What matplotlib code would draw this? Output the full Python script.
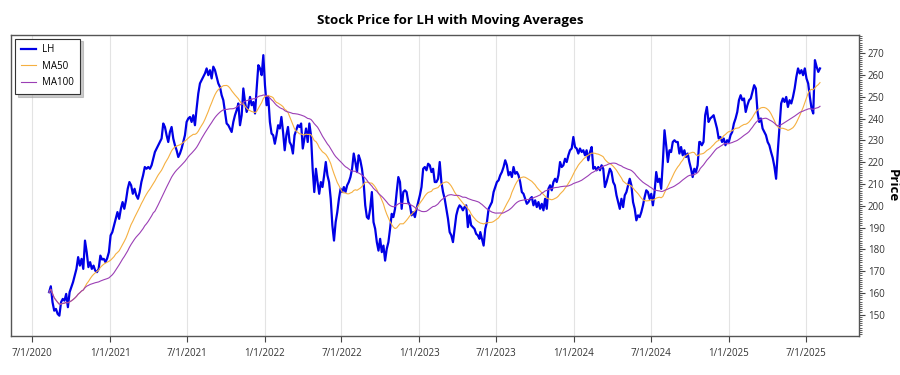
import matplotlib

matplotlib.use("Agg")
import matplotlib.dates as mdates
import matplotlib.pyplot as plt
import pandas as pd
from matplotlib.ticker import FuncFormatter, MultipleLocator

# Price readings, one list per stretch of the chart (about every 4 days)
seg_dates = [
    ("2020-08-10", "2021-04-01"),
    ("2021-04-05", "2021-12-17"),
    ("2021-12-21", "2022-09-07"),
    ("2022-09-11", "2023-05-23"),
    ("2023-05-25", "2024-02-04"),
    ("2024-02-08", "2024-10-23"),
    ("2024-10-25", "2025-08-04"),
]

price_2020 = [
    160.3, 163, 155.7, 151.8, 152.6, 150.3, 149.5, 155.7, 157.2, 156.4, 159.5, 153.4, 160.3, 162.6, 164.9,
    167.9, 171, 176.4, 172.5, 175.6, 171, 184, 178.7, 171.8, 174.1, 171, 172.5, 170.2, 169.5, 171, 177.1,
    175.3, 175.6, 174.1, 175.9, 178.7, 186.4, 187.9, 191, 194, 197.1, 194, 198.6, 201.7, 198.6, 202.5,
    207.8, 210.9, 209.4, 205.5, 207.8, 204.8, 203.2, 206.3, 210.9, 214, 217.8, 217, 217.8,
]
price_2021 = [
    217, 218.6, 221.6, 224.7, 226.3, 227.8, 229.3, 230.9, 237.8, 236.2, 232.4, 229.3, 233.9, 236.2, 230.9,
    227.8, 225.5, 222.4, 224, 226.3, 229.3, 232.4, 238.5, 240.1, 240.8, 238.5, 241.6, 237, 244.7, 251.6,
    256.2, 257.7, 259.2, 260.8, 263.1, 260, 262.3, 258.5, 263.9, 262.3, 259.2, 256.2, 254.6, 250.8, 248.5,
    243.1, 237.8, 237, 235.5, 233.9, 238.5, 241.6, 243.9, 247, 237, 241.6, 253.9, 247.7, 243.1, 245.4, 250,
    246.2, 247.7, 242.4, 253.9, 264.6,
]
price_2022 = [
    263.1, 260, 269.2, 255.4, 246.2, 250, 238.5, 233.2, 232.4, 228.5, 232.4, 237, 235.5, 240.8, 233.9,
    225.5, 232.4, 236.2, 229.3, 227.8, 224, 232.4, 234.7, 237, 236.2, 237.8, 226.3, 230.9, 235.5, 229.3,
    237.8, 232.4, 217, 206.3, 217, 210.9, 205.5, 210.9, 208.6, 214, 220.1, 214, 210.9, 203.2, 191, 184,
    192.5, 197.1, 203.2, 207.8, 206.3, 208.6, 206.3, 209.4, 210.9, 213.2, 217, 224, 220.1, 215.5, 223.2,
    220.9, 217, 210.9, 200.2, 194.8, 194, 198.6,
]
price_2023 = [
    206.3, 192.5, 189.4, 183.3, 179.4, 184.8, 178.7, 181.7, 174.8, 180.2, 183.3, 189.4, 196.3, 194.8, 198.6,
    206.3, 213.2, 210.9, 198.6, 206.3, 207.1, 206.3, 201.7, 200.2, 195.6, 197.1, 194.8, 198.6, 201.7, 204.8,
    208.6, 217, 217.8, 216.3, 219.3, 218.6, 215.5, 217, 210.9, 210.9, 212.4, 220.1, 210.9, 206.3, 203.2,
    198.6, 194, 187.9, 186.4, 183.3, 189.4, 195.6, 198.6, 200.2, 199.4, 197.9, 199.4, 200.2, 190.2, 195.6,
    191, 190.2, 189.4, 187.1, 186.4, 184.8,
]
price_2023b = [
    187.9, 184.8, 181.7, 189.4, 192.5, 198.6, 200.2, 201.7, 206.3, 208.6, 210.9, 211.7, 214, 215.5, 217.8,
    220.9, 218.6, 214, 215.5, 213.2, 217.8, 214.7, 215.5, 214, 210.9, 206.3, 205.5, 203.2, 200.9, 201.7,
    203.2, 204, 200.2, 202.5, 199.4, 201.7, 198.6, 200.9, 197.9, 203.2, 198.6, 207.8, 209.4, 207.1, 210.9,
    212.4, 210.9, 214, 220.1, 217.8, 218.6, 221.6, 220.1, 223.2, 225.5, 226.3, 231.6, 227, 226.3, 224,
    226.3, 224.7, 225.5, 223.2, 225.5, 220.9,
]
price_2024 = [
    224.7, 227, 217, 217.8, 216.3, 217.8, 216.3, 218.6, 217, 208.6, 210.9, 214, 217, 215.5, 210.9, 209.4,
    204.8, 201.7, 198.6, 203.2, 199.4, 204.8, 206.3, 209.4, 212.4, 209.4, 201.7, 198.6, 193.3, 195.6,
    194.8, 197.1, 200.2, 204, 207.1, 206.3, 203.2, 205.5, 200.2, 206.3, 215.5, 210.9, 212.4, 207.8, 220.1,
    234.7, 227.8, 220.1, 225.5, 224.7, 229.3, 230.1, 229.3, 229.3, 224, 227, 223.2, 225.5, 222.4, 224,
    220.1, 217, 213.2, 217, 215.5, 218.6, 229.3,
]
price_2025 = [
    229.3, 227.8, 229.3, 241.6, 245.4, 238.5, 240.1, 240.8, 241.6, 238.5, 235.5, 230.9, 231.6, 229.3, 230.9,
    227.8, 230.1, 229.3, 232.4, 233.9, 237.8, 240.1, 243.1, 248.5, 250.8, 248.5, 249.3, 243.1, 246.2, 248.5,
    249.3, 252.3, 255.4, 253.9, 243.1, 238.5, 240.1, 235.5, 233.9, 232.4, 229.3, 227.8, 224.7, 222, 218,
    212.4, 225, 236, 247, 249.3, 247.7, 250, 245.4, 248.5, 247, 250, 253.9, 259.2, 263.1, 260.8, 262.3,
    260, 263.1, 258.5, 256.2, 250, 244.7, 242.4, 266.9, 263.9, 261.5, 263.1,
]

segments = [price_2020, price_2021, price_2022, price_2023, price_2023b, price_2024, price_2025]

# Build one dated series
parts = []
for (start, end), vals in zip(seg_dates, segments):
    idx = pd.date_range(start, end, periods=len(vals))
    parts.append(pd.Series(vals, index=idx))
price = pd.concat(parts)

# Moving averages (50 and 100 trading days in calendar time)
ma50 = price.rolling("73D").mean()
ma100 = price.rolling("145D").mean()

plt.rcParams["font.family"] = ["Open Sans", "DejaVu Sans"]

fig = plt.figure(figsize=(9, 3.75), dpi=100)
ax = fig.add_axes([0.0122, 0.1048, 0.9422, 0.8027])

ax.plot(price.index, price.values, color="#0000e6", lw=1.6, label="LH")
ax.plot(ma50.index, ma50.values, color="#f5b041", lw=0.8, label="MA50")
ax.plot(ma100.index, ma100.values, color="#9b3fb5", lw=0.8, label="MA100")

ax.set_xlim(pd.Timestamp("2020-05-12"), pd.Timestamp("2025-11-04"))
ax.set_ylim(140.3, 278.6)


def date_label(v, pos):
    d = mdates.num2date(v)
    return f"{d.month}/{d.day}/{d.year}"


# x axis: half-year ticks, m/d/yyyy
ax.xaxis.set_major_locator(mdates.MonthLocator(bymonth=[1, 7]))
ax.xaxis.set_major_formatter(FuncFormatter(date_label))
ax.tick_params(axis="x", length=4, width=0.8, color="#444444", pad=5, labelsize=7, labelcolor="#333333")
ax.grid(axis="x", color="#e3e3e3", lw=0.8)
ax.grid(axis="y", visible=False)

# y axis on the right
ax.yaxis.tick_right()
ax.yaxis.set_major_locator(MultipleLocator(10))
ax.yaxis.set_minor_locator(MultipleLocator(1))
ax.tick_params(axis="y", which="major", length=4, width=0.8, color="#444444", pad=2.5,
               labelsize=7, labelcolor="#333333")
ax.tick_params(axis="y", which="minor", length=2, width=0.6, color="#444444")

# axis title placed by hand just right of the tick labels
ax.text(1.0392, 0.5, "Price", transform=ax.transAxes, rotation=270, fontsize=9.5,
        fontweight="bold", ha="center", va="center")

for sp in ax.spines.values():
    sp.set_color("#555555")
    sp.set_linewidth(1.0)

fig.suptitle("Stock Price for LH with Moving Averages", y=0.963, fontsize=9.5, fontweight="bold")

leg = ax.legend(loc="upper left", fontsize=7, frameon=True, fancybox=False,
                shadow={"color": "#999999", "alpha": 0.5},
                borderpad=0.6, handlelength=1.6, handletextpad=0.6, labelspacing=0.55,
                bbox_to_anchor=(0.0, 1.0), borderaxespad=0.4)
leg.get_frame().set_edgecolor("#333333")
leg.get_frame().set_linewidth(0.8)

fig.savefig("out.png", dpi=100)
plt.close(fig)
